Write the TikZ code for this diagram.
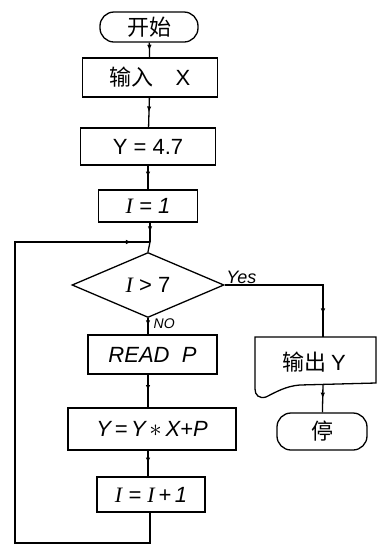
\documentclass[tikz,border=0pt]{standalone}
\usepackage{fontspec}
\setmainfont{Liberation Sans}
\newfontfamily\cjk{Noto Sans CJK SC}
\newfontfamily\serifI{Liberation Serif}
\newcommand{\vI}{{\serifI\itshape I}}
\usetikzlibrary{shapes.geometric,arrows.meta,decorations.markings}
\begin{document}
\begin{tikzpicture}[x=1pt,y=-1pt,line width=1.3pt,
  box/.style={draw,inner sep=0pt,font=\fontsize{22}{23}\selectfont},
  term/.style={box,rounded corners=14pt},
  decision/.style={draw,diamond,inner sep=0pt,minimum width=152pt,minimum height=65pt,font=\fontsize{22}{23}\selectfont},
  lab/.style={inner sep=1pt},
  midarrow/.style={postaction={decorate},decoration={markings,
    mark=at position #1 with {\arrow{Latex[length=6pt,width=4.5pt]}}}},
  midarrow/.default=0.5]
\useasboundingbox (0,0) rectangle (380,547);

% main column
\node[term,minimum width=98pt,minimum height=30pt] (start) at (149,27) {\cjk 开始};
\node[box,minimum width=135pt,minimum height=39pt] (input) at (150,77.5) {\cjk 输入\quad\rmfamily X};
\node[box,minimum width=135pt,minimum height=37pt] (yinit) at (148,146.5) {Y = 4.7};
\node[box,minimum width=99pt,minimum height=32pt] (iinit) at (148,206) {\itshape \vI\ = 1};
\coordinate (join) at (150,242);
\node[decision] (cond) at (148,285) {\vI\ > 7};
\node[box,minimum width=129pt,minimum height=39pt] (read) at (152.5,354.5) {\itshape READ\ \ P};
\node[box,minimum width=168pt,minimum height=42pt] (update) at (152,429) {\itshape Y\,=\,Y\,{\fontsize{27}{27}\selectfont$\ast$}\,X+P};
\node[box,minimum width=108pt,minimum height=35pt] (incr) at (151,494.5) {\itshape \vI\ = \vI\,+\,1};

% output (document shape) and end
\draw (255,337) -- (376,337) -- (376,383) -- (300,385)
  .. controls (286,386) and (276,392) .. (266,397)
  .. controls (259,399) and (255,395) .. (255,389) -- cycle;
\node[inner sep=0pt,font=\fontsize{22}{23}\selectfont] (output) at (314,362) {\cjk 输出\ \rmfamily Y};
\coordinate (outtop) at (323,337);
\coordinate (outbot) at (323,385);
\node[term,minimum width=90pt,minimum height=37pt] (stop) at (322,431.5) {\cjk 停};

% connectors
\draw[midarrow=0.55] (start) -- (input);
\draw[midarrow] (input) -- (yinit);
\draw[midarrow] (yinit) -- (iinit);
\draw[midarrow] (iinit.south -| join) -- (join);
\draw (join) -- (cond.north);
\draw[midarrow] (cond.south) -- (read.north -| cond.south);
\draw[midarrow] (read.south -| cond.south) -- (update.north -| cond.south);
\draw[midarrow] (update.south -| cond.south) -- (incr.north -| cond.south);
\coordinate (yesc) at (323,285);
\draw[midarrow=0.85] (cond.east) -- (yesc) -- (outtop);
\draw[midarrow] (outbot) -- (stop);
\coordinate (loopa) at (150,543);
\coordinate (loopb) at (15,543);
\coordinate (loopc) at (15,242);
\draw[midarrow=0.97] (incr.south -| loopa) -- (loopa) -- (loopb) -- (loopc) -- (join);

% branch labels
\node[lab,anchor=south west,font=\fontsize{18}{19}\selectfont\itshape] at (cond.east) {Yes};
\node[lab,anchor=west,font=\fontsize{14}{15}\selectfont\itshape] at (152,324) {NO};
\end{tikzpicture}
\end{document}
